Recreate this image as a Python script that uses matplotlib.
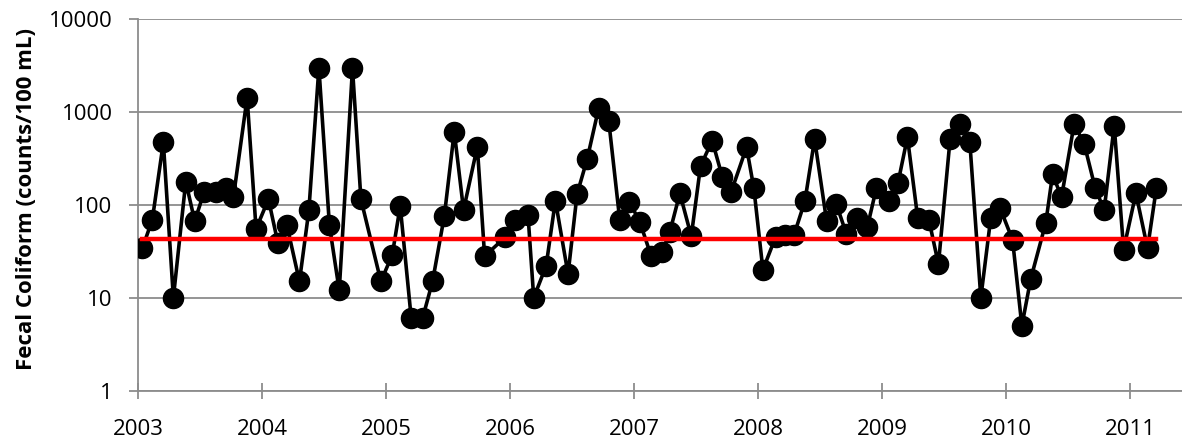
import matplotlib
matplotlib.use("Agg")
import matplotlib.pyplot as plt
from matplotlib.ticker import FixedLocator, FixedFormatter, NullLocator

# sample dates as decimal years
years = [2003.032, 2003.113, 2003.202, 2003.283, 2003.383, 2003.455, 2003.531, 2003.625,
         2003.708, 2003.767, 2003.878, 2003.950, 2004.050, 2004.126, 2004.198, 2004.300,
         2004.376, 2004.457, 2004.542, 2004.621, 2004.728, 2004.796, 2004.957, 2005.049,
         2005.113, 2005.202, 2005.293, 2005.374, 2005.469, 2005.549, 2005.624, 2005.735,
         2005.794, 2005.961, 2006.042, 2006.144, 2006.190, 2006.290, 2006.365, 2006.467,
         2006.540, 2006.621, 2006.714, 2006.795, 2006.884, 2006.962, 2007.047, 2007.138,
         2007.226, 2007.288, 2007.369, 2007.461, 2007.536, 2007.630, 2007.711, 2007.784,
         2007.907, 2007.966, 2008.039, 2008.141, 2008.214, 2008.289, 2008.378, 2008.456,
         2008.553, 2008.631, 2008.712, 2008.801, 2008.882, 2008.954, 2009.056, 2009.129,
         2009.205, 2009.288, 2009.379, 2009.455, 2009.549, 2009.630, 2009.708, 2009.797,
         2009.877, 2009.953, 2010.053, 2010.128, 2010.200, 2010.321, 2010.376, 2010.448,
         2010.550, 2010.631, 2010.720, 2010.792, 2010.873, 2010.949, 2011.048, 2011.142,
         2011.213]

fecal = [34, 69, 470, 10, 178, 67, 137, 139, 153, 120, 1425, 55,
         115, 39, 61, 15, 87, 3000, 60, 12, 2950, 115, 15, 29,
         97, 6, 6, 15, 76, 614, 88, 423, 28, 45, 69, 78,
         10, 22, 111, 18, 131, 310, 1097, 806, 69, 108, 65, 28,
         31, 51, 133, 46, 262, 491, 201, 139, 417, 151, 20, 45,
         47, 47, 110, 508, 67, 102, 49, 72, 58, 151, 110, 173,
         534, 72, 68, 23, 508, 743, 479, 10, 72, 92, 42, 5,
         16, 64, 213, 121, 743, 452, 151, 88, 712, 33, 133, 34,
         151]

criterion = 43

year_ticks = list(range(2003, 2012))
y_ticks = [1, 10, 100, 1000, 10000]
y_labels = ["1", "10", "100", "1000", "10000"]

plt.rcParams["font.family"] = ["Open Sans", "DejaVu Sans"]

fig = plt.figure(figsize=(11.82, 4.38), dpi=100)
ax = fig.add_axes([0.117, 0.108, 0.883, 0.8486])

grid_col = "#8c8c8c"

ax.plot(years, fecal, color="black", lw=2.6, marker="o", ms=14.5,
        markerfacecolor="black", markeredgecolor="black", zorder=3)
ax.plot([years[0], years[-1]], [criterion, criterion], color="#ff0000", lw=3.2, zorder=4)

ax.set_yscale("log")
ax.set_ylim(1, 10000)
ax.set_xlim(2003, 2011.42)

ax.yaxis.set_major_locator(FixedLocator(y_ticks))
ax.yaxis.set_major_formatter(FixedFormatter(y_labels))
ax.yaxis.set_minor_locator(NullLocator())
ax.set_xticks(year_ticks)
ax.set_xticklabels([str(y) for y in year_ticks])

ax.grid(axis="y", color=grid_col, lw=1.3, zorder=0)
for s in ["top", "right"]:
    ax.spines[s].set_visible(False)
for s in ["left", "bottom"]:
    ax.spines[s].set_color(grid_col)
    ax.spines[s].set_linewidth(1.3)

ax.tick_params(axis="x", direction="inout", length=11, width=1.3, color=grid_col,
               labelsize=16, pad=15)
ax.tick_params(axis="y", direction="out", length=6.5, width=1.3, color=grid_col,
               labelsize=16, pad=12)

ax.set_ylabel("Fecal Coliform (counts/100 mL)", fontsize=16, fontweight="bold")
ax.yaxis.set_label_coords(-0.097, 0.515)

fig.savefig("out.png", dpi=100)
